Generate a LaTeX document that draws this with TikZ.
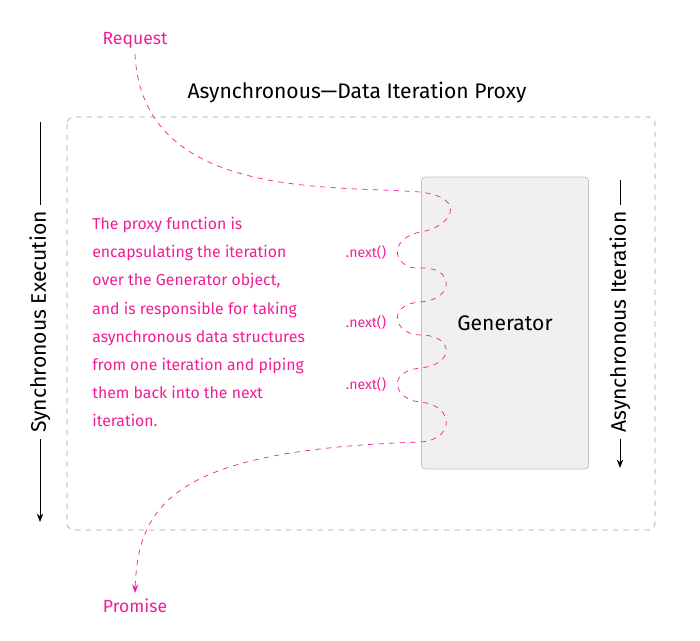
\documentclass[tikz,border=0pt]{standalone}
\usepackage{fontspec}
\setmainfont{Fira Sans}
\usetikzlibrary{arrows.meta,positioning}
\definecolor{pinkish}{RGB}{240,30,150}
\tikzset{
  note/.style={text=pinkish,font=\small},
  flow/.style={pinkish,dashed,thin},
  side/.style={font=\large,rotate=90}
}
\begin{document}
\begin{tikzpicture}[x=0.02cm,y=-0.02cm]
  \useasboundingbox (0,0) rectangle (700,641);

  % frame and generator
  \draw[gray!40,dashed,thick,rounded corners=4] (67,117) rectangle (655,530);
  \node[draw=gray!50,fill=gray!12,rounded corners=2,minimum width=3.34cm,minimum height=5.84cm,font=\large] (gen) at (505,323) {Generator};
  \node[font=\large] (title) at (357,93) {Asynchronous---Data Iteration Proxy};

  % side labels
  \node[side] (sync) at (40,322) {Synchronous Execution};
  \coordinate (synctop) at (40,122);
  \coordinate (syncbot) at (40,522);
  \draw (synctop) -- (sync.east);
  \draw[-{Stealth}] (sync.west) -- (syncbot);
  \node[side] (async) at (620,322) {Asynchronous Iteration};
  \coordinate (asynctop) at (620,180);
  \coordinate (asyncbot) at (620,468);
  \draw (asynctop) -- (async.east);
  \draw[-{Stealth}] (async.west) -- (asyncbot);

  % request and promise
  \node[note,font=\normalsize] (req) at (135,40) {Request};
  \node[note,font=\normalsize] (prom) at (135,606) {Promise};
  \draw[flow,-{Stealth}] (req.south) .. controls (142,200) and (330,185) .. (420,192)
    .. controls (470,198) and (450,228) .. (420,232)
    .. controls (385,240) and (395,270) .. (420,268)
    .. controls (455,266) and (455,300) .. (420,302)
    .. controls (385,305) and (395,335) .. (420,335)
    .. controls (455,335) and (455,365) .. (420,368)
    .. controls (385,372) and (395,400) .. (420,402)
    .. controls (455,405) and (455,440) .. (420,442)
    .. controls (180,450) and (138,500) .. (prom.north);

  % next calls
  \foreach \y/\n in {253/a,323/b,385/c}
    \node[note,font=\footnotesize] (next\n) at (366,\y) {.next()};

  % explanation
  \node[note,anchor=north west,align=left,inner sep=0pt,font=\small,
        text depth=0pt] (text) at (92,217) {%
    The proxy function is\\[5pt]
    encapsulating the iteration\\[5pt]
    over the Generator object,\\[5pt]
    and is responsible for taking\\[5pt]
    asynchronous data structures\\[5pt]
    from one iteration and piping\\[5pt]
    them back into the next\\[5pt]
    iteration.};
\end{tikzpicture}
\end{document}
